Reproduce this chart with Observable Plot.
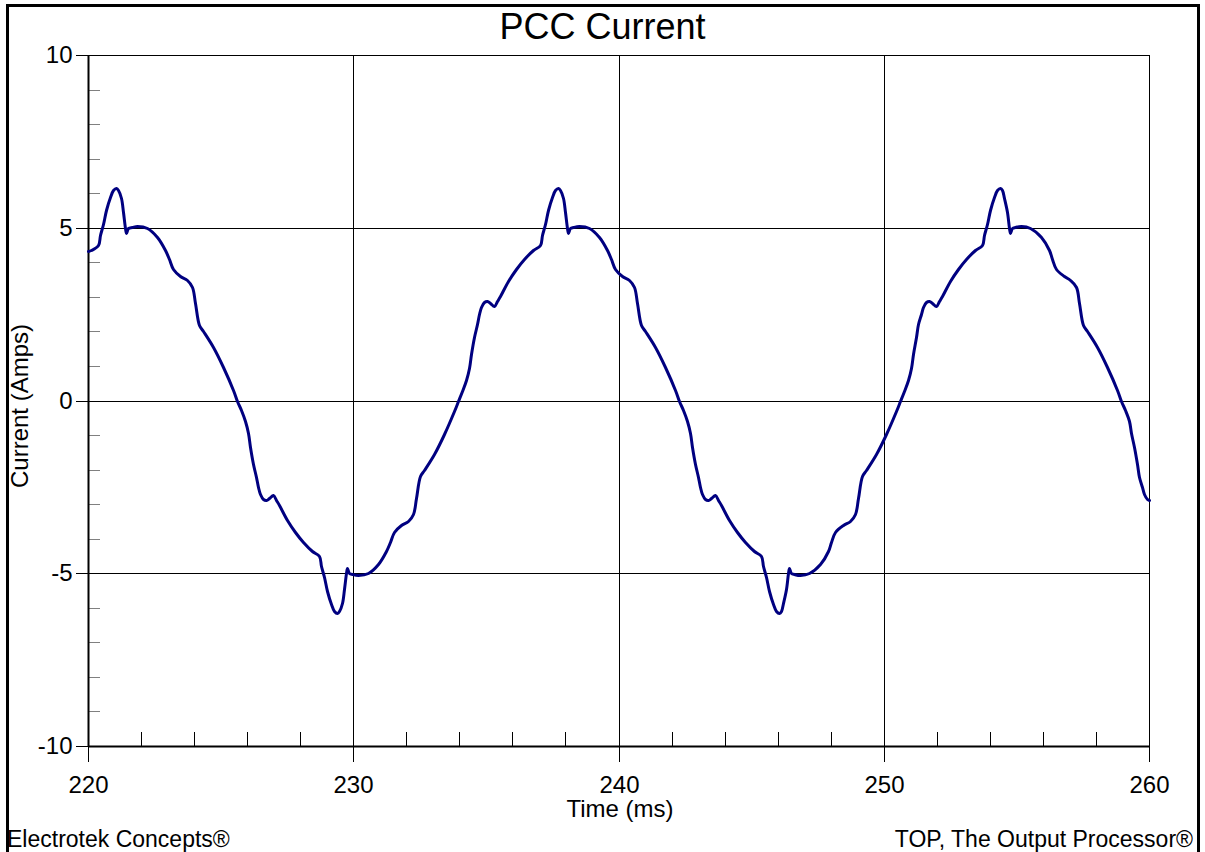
<!DOCTYPE html>
<html>
<head>
<meta charset="utf-8">
<script src="https://cdn.jsdelivr.net/npm/d3@7"></script>
<script src="https://cdn.jsdelivr.net/npm/@observablehq/plot@0.6"></script>
<style>
  html, body { margin: 0; padding: 0; background: #fff; overflow: hidden; }
  #wrap { position: relative; width: 1205px; height: 852px; font-family: "Liberation Sans", Arial, sans-serif; color: #000; }
  #border { position: absolute; left: 6px; top: 4px; width: 1188px; height: 900px; border: 3px solid #000; pointer-events: none; }
  #chart { position: absolute; left: 0; top: 0; }
  .t { position: absolute; white-space: nowrap; line-height: 1; color: #000; }
</style>
</head>
<body>
<div id="wrap">
  <div id="chart"></div>
  <div id="border"></div>
  <div class="t" id="title" style="left:0;top:9px;width:1205px;text-align:center;font-size:36px;">PCC Current</div>
  <div class="t" id="ylab" style="left:-130px;top:394px;width:300px;height:24px;text-align:center;font-size:24px;transform:rotate(-90deg);">Current (Amps)</div>
  <div class="t" id="xlab" style="left:470px;top:797px;width:300px;text-align:center;font-size:24px;">Time (ms)</div>
  <div class="t" id="footL" style="left:7px;top:828px;font-size:23px;">Electrotek Concepts®</div>
  <div class="t" id="footR" style="right:12px;top:828px;font-size:23px;">TOP, The Output Processor®</div>
</div>
<script>
// Tick values
const xTicks = [220, 230, 240, 250, 260];
const xMinor = [222, 224, 226, 228, 232, 234, 236, 238, 242, 244, 246, 248, 252, 254, 256, 258];
const yTicks = [-10, -5, 0, 5, 10];
const yMinor = [-9, -8, -7, -6, -4, -3, -2, -1, 1, 2, 3, 4, 6, 7, 8, 9];
const gridX = [230, 240, 250];
const gridY = [-5, 0, 5];

// Time (ms) samples
const timeMs = [
  220.00,220.12,220.37,220.47,220.56,220.69,220.84,220.95,221.05,221.14,221.23,221.31,221.39,221.45,221.51,221.64,221.84,222.21,222.59,222.90,223.04,223.19,223.47,223.72,223.91,224.03,224.18,224.35,224.72,225.10,225.48,
  225.62,225.77,225.93,226.02,226.12,226.22,226.32,226.42,226.50,226.60,226.72,226.84,226.99,227.09,227.19,227.49,227.82,228.12,228.45,228.70,228.80,228.89,229.02,229.17,229.28,229.38,229.47,229.56,229.64,229.72,229.78,229.84,229.97,230.17,230.54,230.92,231.23,231.37,231.52,231.80,232.05,232.24,232.36,232.51,232.68,233.05,233.43,233.81,
  233.95,234.10,234.26,234.35,234.45,234.55,234.65,234.75,234.83,234.93,235.05,235.17,235.32,235.42,235.52,235.82,236.15,236.45,236.78,237.03,237.13,237.22,237.35,237.50,237.61,237.71,237.80,237.89,237.97,238.05,238.11,238.17,238.30,238.50,238.87,239.25,239.56,239.70,239.85,240.13,240.38,240.57,240.69,240.84,241.01,241.38,241.76,242.14,
  242.28,242.43,242.59,242.68,242.78,242.88,242.98,243.08,243.16,243.26,243.38,243.50,243.65,243.75,243.85,244.15,244.48,244.78,245.11,245.36,245.46,245.55,245.68,245.83,245.94,246.04,246.13,246.22,246.30,246.38,246.44,246.50,246.63,246.83,247.20,247.58,247.89,248.03,248.18,248.46,248.71,248.90,249.02,249.17,249.34,249.71,250.09,250.47,
  250.61,250.76,250.92,251.01,251.11,251.21,251.31,251.41,251.49,251.59,251.71,251.83,251.98,252.08,252.18,252.48,252.81,253.11,253.44,253.69,253.79,253.88,254.01,254.16,254.27,254.37,254.46,254.55,254.63,254.71,254.77,254.83,254.96,255.16,255.53,255.91,256.22,256.36,256.51,256.79,257.04,257.23,257.35,257.50,257.67,258.04,258.42,258.80,
  258.94,259.09,259.25,259.34,259.44,259.54,259.64,259.74,259.82,259.92,260.00
];

// Current (Amps) samples
const currentA = [
  4.32,4.37,4.49,4.80,5.12,5.50,5.90,6.10,6.16,6.08,5.85,5.45,5.00,4.86,4.98,5.02,5.04,4.98,4.73,4.35,4.10,3.82,3.60,3.50,3.29,2.81,2.18,2.02,1.55,0.98,0.30,
  0,-0.27,-0.58,-0.95,-1.35,-1.85,-2.20,-2.50,-2.70,-2.85,-2.89,-2.82,-2.74,-2.88,-3.03,-3.45,-3.82,-4.10,-4.35,-4.49,-4.80,-5.12,-5.50,-5.90,-6.10,-6.16,-6.08,-5.85,-5.45,-5.00,-4.86,-4.98,-5.02,-5.04,-4.98,-4.73,-4.35,-4.10,-3.82,-3.60,-3.50,-3.29,-2.81,-2.18,-2.02,-1.55,-0.98,-0.30,
  0,0.27,0.58,0.95,1.35,1.85,2.20,2.50,2.70,2.85,2.89,2.82,2.74,2.88,3.03,3.45,3.82,4.10,4.35,4.49,4.80,5.12,5.50,5.90,6.10,6.16,6.08,5.85,5.45,5.00,4.86,4.98,5.02,5.04,4.98,4.73,4.35,4.10,3.82,3.60,3.50,3.29,2.81,2.18,2.02,1.55,0.98,0.30,
  0,-0.27,-0.58,-0.95,-1.35,-1.85,-2.20,-2.50,-2.70,-2.85,-2.89,-2.82,-2.74,-2.88,-3.03,-3.45,-3.82,-4.10,-4.35,-4.49,-4.80,-5.12,-5.50,-5.90,-6.10,-6.16,-6.08,-5.85,-5.45,-5.00,-4.86,-4.98,-5.02,-5.04,-4.98,-4.73,-4.35,-4.10,-3.82,-3.60,-3.50,-3.29,-2.81,-2.18,-2.02,-1.55,-0.98,-0.30,
  0,0.27,0.58,0.95,1.35,1.85,2.20,2.50,2.70,2.85,2.89,2.82,2.74,2.88,3.03,3.45,3.82,4.10,4.35,4.49,4.80,5.12,5.50,5.90,6.10,6.16,6.08,5.85,5.45,5.00,4.86,4.98,5.02,5.04,4.98,4.73,4.35,4.10,3.82,3.60,3.50,3.29,2.81,2.18,2.02,1.55,0.98,0.30,
  0,-0.27,-0.58,-0.95,-1.35,-1.85,-2.20,-2.50,-2.70,-2.85,-2.88
];

const series = timeMs.map((t, k) => ({t, i: currentA[k]}));

const chart = Plot.plot({
  width: 1205,
  height: 852,
  marginLeft: 88,
  marginRight: 56,
  marginTop: 55,
  marginBottom: 106,
  x: {domain: [220, 260], round: true},
  y: {domain: [-10, 10], round: true},
  style: {fontFamily: "'Liberation Sans', Arial, sans-serif", fontSize: "24px", color: "#000", background: "transparent", overflow: "visible"},
  marks: [
    Plot.ruleX(gridX, {stroke: "#000", strokeWidth: 1}),
    Plot.ruleY(gridY, {stroke: "#000", strokeWidth: 1}),
    Plot.frame({stroke: "#000", strokeWidth: 1}),
    Plot.axisY(yMinor, {tickSize: -12, stroke: "#808080", strokeOpacity: 1, tickFormat: () => "", label: null}),
    Plot.axisX(xMinor, {tickSize: -14, stroke: "#000", strokeOpacity: 1, tickFormat: () => "", label: null}),
    Plot.axisY(yTicks, {tickSize: 12, tickPadding: 4, stroke: "#000", strokeOpacity: 1, tickFormat: d => String(d), fontSize: 24, fill: "#000", label: null}),
    Plot.axisX(xTicks, {tickSize: 16, tickPadding: 13, stroke: "#000", strokeOpacity: 1, tickFormat: d => String(d), fontSize: 24, fill: "#000", label: null}),
    Plot.ruleX([220], {stroke: "#000", strokeWidth: 2}),
    Plot.ruleY([-10], {stroke: "#000", strokeWidth: 2}),
    Plot.line(series, {x: "t", y: "i", stroke: "#000080", strokeWidth: 3, curve: "catmull-rom"})
  ]
});
document.getElementById("chart").appendChild(chart);
</script>
</body>
</html>
